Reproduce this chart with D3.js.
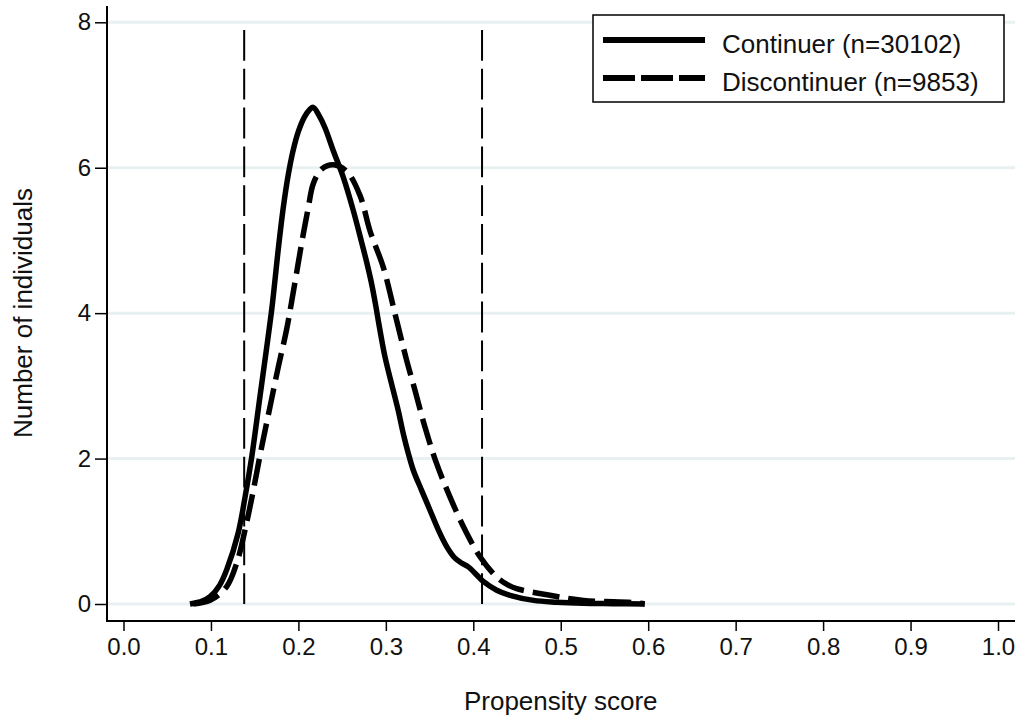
<!DOCTYPE html>
<html>
<head>
<meta charset="utf-8">
<script src="https://cdn.jsdelivr.net/npm/d3@7"></script>
<style>
  body { margin: 0; background: #fff; }
  text { font-family: "Liberation Sans", Arial, sans-serif; fill: #111; }
</style>
</head>
<body>
<div id="chart"></div>
<script>
// propensity score densities
const contX = [0.076, 0.090, 0.099, 0.110, 0.118, 0.131, 0.139, 0.1466, 0.156, 0.164, 0.170, 0.177, 0.1827, 0.1885,
  0.194, 0.200, 0.207, 0.213, 0.217, 0.2235, 0.2304, 0.240, 0.2513, 0.2628, 0.2724, 0.2781, 0.2838, 0.2885, 0.2935,
  0.2990, 0.3067, 0.3142, 0.3200, 0.3257, 0.3314, 0.3410, 0.3505, 0.3600, 0.3696, 0.3791, 0.3870, 0.3943,
  0.4039, 0.4114, 0.4268, 0.4420, 0.469, 0.495, 0.526, 0.560, 0.596]
const contY = [0.00, 0.04, 0.10, 0.26, 0.47, 0.97, 1.47, 2.02, 2.85, 3.55, 4.10, 4.88, 5.45, 5.91,
  6.24, 6.50, 6.70, 6.80, 6.83, 6.72, 6.55, 6.23, 5.87, 5.41, 4.97, 4.70, 4.40, 4.10, 3.75,
  3.40, 3.02, 2.66, 2.34, 2.07, 1.84, 1.56, 1.29, 1.02, 0.79, 0.63, 0.56, 0.51,
  0.40, 0.31, 0.19, 0.12, 0.05, 0.025, 0.01, 0.005, 0.00]

const discX = [0.080, 0.099, 0.118, 0.1294, 0.139, 0.1484, 0.158, 0.1675, 0.177, 0.1866, 0.195, 0.2056, 0.2113,
  0.217, 0.2266, 0.240, 0.2552, 0.2704, 0.2819, 0.2971, 0.3105, 0.3238, 0.3333, 0.3448, 0.3581, 0.3734, 0.3905,
  0.4077, 0.4268, 0.440, 0.4496, 0.4877, 0.526, 0.583, 0.596]
const discY = [0.00, 0.05, 0.24, 0.56, 1.02, 1.56, 2.16, 2.71, 3.26, 3.78, 4.35, 5.09, 5.45,
  5.78, 5.98, 6.04, 5.95, 5.62, 5.13, 4.63, 3.99, 3.35, 2.94, 2.43, 1.93, 1.47, 1.02,
  0.65, 0.37, 0.26, 0.21, 0.12, 0.05, 0.02, 0.00]

// common support cut-offs
const cutoffs = [0.138, 0.41]

const xTicks = [0, 0.1, 0.2, 0.3, 0.4, 0.5, 0.6, 0.7, 0.8, 0.9, 1.0]
const yTicks = [0, 2, 4, 6, 8]
const legendLabels = ["Continuer (n=30102)", "Discontinuer (n=9853)"]

const W = 1022, H = 724
const axisX = 107, axisY = 621, plotRight = 1015

const svg = d3.select("#chart").append("svg")
    .attr("width", W)
    .attr("height", H)

const x = d3.scaleLinear().domain([0, 1]).range([123.5, 998])
const y = d3.scaleLinear().domain([0, 8]).range([604, 22.3])

// grid lines
svg.selectAll("line.grid")
    .data(yTicks)
    .enter().append("line")
    .attr("class", "grid")
    .attr("x1", axisX)
    .attr("x2", plotRight)
    .attr("y1", d => y(d))
    .attr("y2", d => y(d))
    .style("stroke", "#e8f0f1")
    .style("stroke-width", 3)

// vertical cut-off lines
svg.selectAll("line.cut")
    .data(cutoffs)
    .enter().append("line")
    .attr("class", "cut")
    .attr("x1", d => x(d))
    .attr("x2", d => x(d))
    .attr("y1", y(0))
    .attr("y2", y(8))
    .style("stroke", "#000")
    .style("stroke-width", 2)
    .style("stroke-dasharray", "30.8 8")

const line = d3.line()
    .x(d => x(d[0]))
    .y(d => y(d[1]))
    .curve(d3.curveCatmullRom.alpha(0.5))

svg.append("path")
    .datum(contX.map((v, i) => [v, contY[i]]))
    .attr("d", line)
    .style("fill", "none")
    .style("stroke", "#000")
    .style("stroke-width", 5.5)
    .style("stroke-linejoin", "round")

svg.append("path")
    .datum(discX.map((v, i) => [v, discY[i]]))
    .attr("d", line)
    .style("fill", "none")
    .style("stroke", "#000")
    .style("stroke-width", 5.5)
    .style("stroke-dasharray", "27 9")

// axes
const xAxis = d3.axisBottom(x).tickValues(xTicks).tickFormat(d3.format(".1f")).tickSize(10).tickPadding(7)
const yAxis = d3.axisLeft(y).tickValues(yTicks).tickFormat(d3.format("d")).tickSize(12).tickPadding(4)

const gx = svg.append("g")
    .attr("transform", "translate(0," + axisY + ")")
    .call(xAxis)
gx.select(".domain").remove()
gx.selectAll(".tick line").style("stroke", "#000").style("stroke-width", 1.5)
gx.selectAll(".tick text").style("font-size", "24px").style("fill", "#111")

const gy = svg.append("g")
    .attr("transform", "translate(" + axisX + ",0)")
    .call(yAxis)
gy.select(".domain").remove()
gy.selectAll(".tick line").style("stroke", "#000").style("stroke-width", 1.5)
gy.selectAll(".tick text").style("font-size", "24px").style("fill", "#111")

svg.append("line")
    .attr("x1", axisX).attr("x2", plotRight)
    .attr("y1", axisY).attr("y2", axisY)
    .style("stroke", "#000").style("stroke-width", 2)
svg.append("line")
    .attr("x1", axisX).attr("x2", axisX)
    .attr("y1", 6).attr("y2", axisY + 1)
    .style("stroke", "#000").style("stroke-width", 2)

// axis titles
svg.append("text")
    .attr("x", (x(0) + x(1)) / 2)
    .attr("y", 710)
    .attr("text-anchor", "middle")
    .style("font-size", "26px")
    .text("Propensity score")

svg.append("text")
    .attr("transform", "translate(32," + 313 + ") rotate(-90)")
    .attr("text-anchor", "middle")
    .style("font-size", "26px")
    .text("Number of individuals")

// legend
const legend = svg.append("g")
legend.append("rect")
    .attr("x", 593).attr("y", 15)
    .attr("width", 411).attr("height", 87)
    .style("fill", "#fff")
    .style("stroke", "#000")
    .style("stroke-width", 1.5)

const dashes = ["none", "32 6"]
legendLabels.forEach(function (label, i) {
    const ly = 40 + i * 38
    legend.append("line")
        .attr("x1", 603).attr("x2", 705)
        .attr("y1", ly).attr("y2", ly)
        .style("stroke", "#000")
        .style("stroke-width", 6)
        .style("stroke-dasharray", dashes[i])
    legend.append("text")
        .attr("x", 722)
        .attr("y", ly + 13)
        .style("font-size", "26px")
        .text(label)
})
</script>
</body>
</html>
